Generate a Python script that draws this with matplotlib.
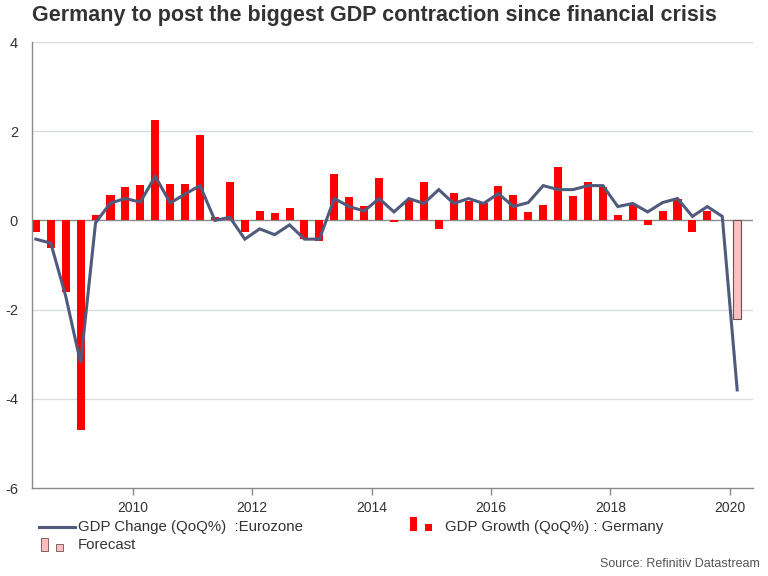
import matplotlib
matplotlib.use("Agg")
import matplotlib.pyplot as plt
from matplotlib.patches import Rectangle
from matplotlib.lines import Line2D
import numpy as np

plt.rcParams['font.family'] = ['Liberation Sans', 'DejaVu Sans']

# Quarterly data, 2008 Q2 .. 2020 Q1
start_year = 2008
start_quarter = 2
eurozone = [-0.42, -0.51, -1.7,
            -3.2, -0.05, 0.39, 0.49,
            0.41, 0.99, 0.39, 0.59,
            0.78, 0.0, 0.07, -0.42,
            -0.19, -0.32, -0.1, -0.42,
            -0.42, 0.49, 0.31, 0.21,
            0.49, 0.19, 0.49, 0.38,
            0.69, 0.38, 0.49, 0.38,
            0.6, 0.31, 0.4, 0.78,
            0.69, 0.69, 0.78, 0.78,
            0.31, 0.38, 0.19, 0.4,
            0.49, 0.09, 0.31, 0.09,
            -3.8]
germany = [-0.27, -0.62, -1.6,
           -4.7, 0.13, 0.58, 0.76,
           0.80, 2.25, 0.82, 0.82,
           1.92, 0.08, 0.86, -0.27,
           0.2, 0.16, 0.28, -0.41,
           -0.47, 1.03, 0.53, 0.33,
           0.96, -0.04, 0.45, 0.86,
           -0.19, 0.62, 0.44, 0.39,
           0.78, 0.57, 0.19, 0.35,
           1.19, 0.55, 0.87, 0.75,
           0.12, 0.36, -0.1, 0.2,
           0.47, -0.26, 0.2, 0.02]
forecast = [-2.2]  # 2020 Q1

yticks = [-6, -4, -2, 0, 2, 4]
xticks = [2010, 2012, 2014, 2016, 2018, 2020]

title = "Germany to post the biggest GDP contraction since financial crisis"
leg_line = "GDP Change (QoQ%)  :Eurozone"
leg_bar = "GDP Growth (QoQ%) : Germany"
leg_fc = "Forecast"
source = "Source: Refinitiv Datastream"

# quarter mid-points as fractional years
def qmid(i):
    q0 = start_year + (start_quarter - 1) * 0.25
    return q0 + 0.125 + 0.25 * i

x_ez = np.array([qmid(i) for i in range(len(eurozone))])
x_de = np.array([qmid(i) for i in range(len(germany))])
x_fc = np.array([qmid(len(germany) + i) for i in range(len(forecast))])

fig = plt.figure(figsize=(7.68, 5.76), dpi=100)
ax = fig.add_axes([32/768, 88/576, (753-32)/768, (488-42)/576])

bw = 0.135
ax.bar(x_de, germany, width=bw, color='#ff0000', zorder=2)
ax.bar(x_fc, forecast, width=bw, color='#ffbfbf', edgecolor='#6b5050', linewidth=0.8, zorder=2)
ax.plot(x_ez, eurozone, color='#505a7c', linewidth=2.2, zorder=3, solid_joinstyle='miter')

ax.set_ylim(-6, 4)
ax.set_xlim(2008.31, 2020.39)
ax.set_yticks(yticks)
ax.set_yticklabels([str(v) for v in yticks])
ax.set_xticks(xticks)
ax.set_xticklabels([str(v) for v in xticks])

for y in yticks:
    if y == -6:
        continue
    if y == 0:
        ax.axhline(0, color='#8a8a8a', linewidth=1.0, zorder=1)
    else:
        ax.axhline(y, color='#d9dcdf', linewidth=1.0, zorder=0)

for s in ['top', 'right']:
    ax.spines[s].set_visible(False)
for s in ['left', 'bottom']:
    ax.spines[s].set_color('#8a8a8a')
    ax.spines[s].set_linewidth(1.0)

ax.tick_params(axis='y', length=0, pad=10, labelsize=10.5, labelcolor='#333333')
ax.tick_params(axis='x', length=5, width=1, color='#8a8a8a', pad=4, labelsize=10, labelcolor='#333333')

fig.text(32/768, 1 - 15/576, title, fontsize=15.5, fontweight='bold', color='#333333',
         va='center', ha='left')

# legend (drawn in figure pixel coords)
def fx(px):
    return px / 768
def fy(py):
    return 1 - py / 576

fig.add_artist(Line2D([fx(39), fx(75)], [fy(527), fy(527)], color='#505a7c', linewidth=2.2))
fig.text(fx(78), fy(527), leg_line, fontsize=10.8, color='#333333', va='center', ha='left')

fig.add_artist(Rectangle((fx(410), fy(531)), 7/768, 14/576, facecolor='#ff0000', edgecolor='none'))
fig.add_artist(Rectangle((fx(425), fy(531)), 7/768, 7/576, facecolor='#ff0000', edgecolor='none'))
fig.text(fx(445), fy(527), leg_bar, fontsize=10.8, color='#333333', va='center', ha='left')

fig.add_artist(Rectangle((fx(41), fy(551)), 7/768, 13/576, facecolor='#ffbfbf', edgecolor='#6b5050', linewidth=0.6))
fig.add_artist(Rectangle((fx(56), fy(551)), 7/768, 7/576, facecolor='#ffbfbf', edgecolor='#6b5050', linewidth=0.6))
fig.text(fx(78), fy(545), leg_fc, fontsize=10.8, color='#333333', va='center', ha='left')

fig.text(fx(760), fy(564), source, fontsize=9, color='#555555', va='center', ha='right')

fig.savefig('out.png', dpi=100)
